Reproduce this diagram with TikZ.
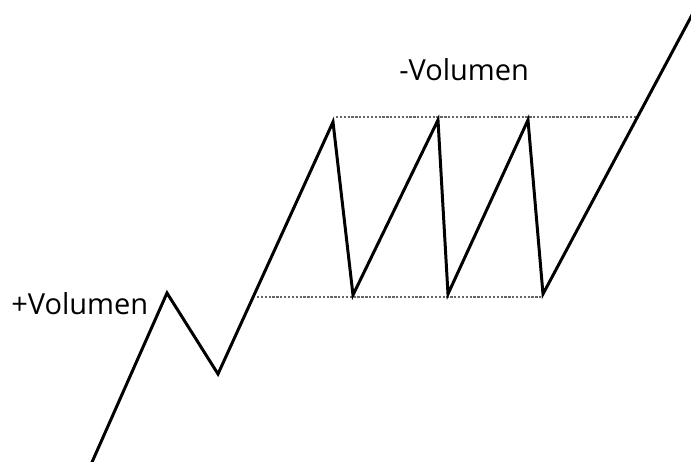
\documentclass[tikz,border=0pt]{standalone}
\usepackage{fontspec}
\setmainfont{Open Sans}
\begin{document}
\begin{tikzpicture}[
  x=0.02cm, y=-0.02cm,
  every node/.style={font=\fontsize{16.5}{19}\selectfont},
  price/.style={draw=black, line width=1.7pt, line join=miter},
  level/.style={draw=black!60, dashed, dash pattern=on 1.3pt off 0.9pt, line width=0.6pt},
]
  \useasboundingbox (0,0) rectangle (691,462);
  \clip (0,0) rectangle (691,462);

  % turning points of the price line
  \coordinate (p0) at (85,478);
  \coordinate (p1) at (167,293);
  \coordinate (p2) at (218,374);
  \coordinate (p3) at (333,122);
  \coordinate (p4) at (353,295);
  \coordinate (p5) at (438,120);
  \coordinate (p6) at (448,294);
  \coordinate (p7) at (528,120);
  \coordinate (p8) at (543,294);
  \coordinate (p9) at (700,0);

  % range limits
  \coordinate (t1) at (336,117);
  \coordinate (t2) at (637,117);
  \coordinate (b1) at (257,297);
  \coordinate (b2) at (543,297);

  \draw[level] (t1) -- (t2);
  \draw[level] (b1) -- (b2);

  \draw[price] (p0) -- (p1) -- (p2) -- (p3) -- (p4) -- (p5) -- (p6) -- (p7) -- (p8) -- (p9);

  \node[anchor=base west, inner sep=0pt] (plus) at (11,315) {+Volumen};
  \node[anchor=base west, inner sep=0pt] (minus) at (399,81) {-Volumen};
\end{tikzpicture}
\end{document}
